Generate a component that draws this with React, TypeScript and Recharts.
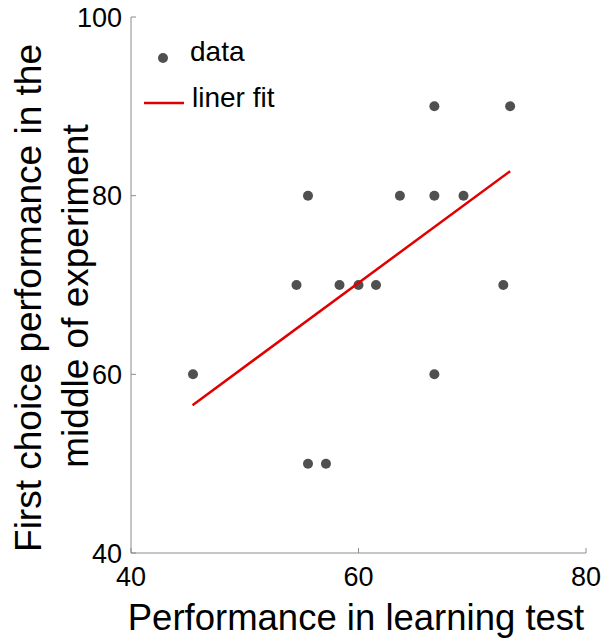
import { ScatterChart, Scatter, XAxis, YAxis } from 'recharts';

// learning-test score vs. first-choice performance mid-experiment
const learningScore = [45.45, 54.55, 55.56, 55.56, 57.14, 58.33, 60, 61.54, 63.64, 66.67, 66.67, 66.67, 69.23, 72.73, 73.33];
const firstChoice = [60, 70, 80, 50, 50, 70, 70, 70, 80, 90, 80, 60, 80, 70, 90];

// linear fit endpoints
const fitX = [45.41, 73.33];
const fitY = [56.55, 82.74];

const xTicks = [40, 60, 80];
const yTicks = [40, 60, 80, 100];

const points = learningScore.map((x, i) => ({ x, y: firstChoice[i] }));
const fitPoints = fitX.map((x, i) => ({ x, y: fitY[i] }));

const FONT = '"Liberation Sans", Arial, sans-serif';
const AXIS_GRAY = '#8c8c8c';
const RED = '#e00000';
const DOT = '#505050';

const Dot = (props: any) => <circle cx={props.cx} cy={props.cy} r={5} fill={DOT} />;
const NoDot = () => null;

export default function App() {
  return (
    <div style={{ position: 'absolute', left: 0, top: 0, width: 605, height: 640, background: '#fff' }}>
      <ScatterChart width={605} height={640} margin={{ top: 17, right: 19, bottom: 57, left: 61 }}>
        <XAxis
          type="number"
          dataKey="x"
          domain={[40, 80]}
          ticks={xTicks}
          height={30}
          tickSize={-5}
          tickMargin={19}
          stroke={AXIS_GRAY}
          tick={{ fontSize: 27, fill: '#000', fontFamily: FONT }}
        />
        <YAxis
          type="number"
          dataKey="y"
          domain={[40, 100]}
          ticks={yTicks}
          width={70}
          tickSize={-5}
          tickMargin={14}
          stroke={AXIS_GRAY}
          tick={{ fontSize: 27, fill: '#000', fontFamily: FONT }}
        />
        <Scatter data={points} shape={Dot} isAnimationActive={false} />
        <Scatter
          data={fitPoints}
          line={{ stroke: RED, strokeWidth: 2.5 }}
          shape={NoDot}
          isAnimationActive={false}
        />
      </ScatterChart>
      <svg
        width={605}
        height={640}
        style={{ position: 'absolute', left: 0, top: 0, pointerEvents: 'none' }}
        fontFamily={FONT}
      >
        <text x={356} y={630} fontSize={36.5} textAnchor="middle" fill="#000">
          Performance in learning test
        </text>
        <text transform="translate(41,298) rotate(-90)" fontSize={37} textAnchor="middle" fill="#000">
          First choice performance in the
        </text>
        <text transform="translate(88,296) rotate(-90)" fontSize={37} textAnchor="middle" fill="#000">
          middle of experiment
        </text>
        <circle cx={163} cy={58} r={5} fill={DOT} />
        <text x={190} y={61} fontSize={28} fill="#000">data</text>
        <line x1={144} y1={103} x2={184} y2={103} stroke={RED} strokeWidth={2.5} />
        <text x={192} y={107} fontSize={28} fill="#000">liner fit</text>
      </svg>
    </div>
  );
}
